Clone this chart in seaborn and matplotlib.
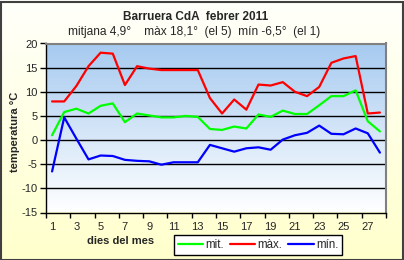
import numpy as np
import pandas as pd
import matplotlib
matplotlib.use("Agg")
import matplotlib.pyplot as plt
from matplotlib.patches import Rectangle
import seaborn as sns

days = list(range(1, 29))
mit = [1.0, 5.8, 6.5, 5.5, 7.1, 7.6, 3.7, 5.5, 5.1, 4.7, 4.7, 5.0, 4.8, 2.3,
       2.1, 2.8, 2.4, 5.3, 4.8, 6.1, 5.4, 5.4, 7.2, 9.1, 9.1, 10.3, 3.9, 1.8]
maxv = [8.0, 8.0, 11.2, 15.3, 18.1, 17.9, 11.4, 15.3, 14.8, 14.5, 14.5, 14.5, 14.5, 8.7,
        5.5, 8.4, 6.3, 11.5, 11.3, 12.0, 10.0, 9.1, 11.0, 16.0, 16.9, 17.4, 5.5, 5.7]
minv = [-6.5, 4.7, 0.3, -4.0, -3.2, -3.3, -4.1, -4.3, -4.4, -5.1, -4.6, -4.6, -4.6, -1.0,
        -1.7, -2.4, -1.7, -1.5, -2.0, 0.1, 1.0, 1.5, 3.0, 1.3, 1.2, 2.4, 1.4, -2.6]
series_names = ["mit.", "màx.", "mín."]
series_colors = ["#00FF00", "#FF0000", "#0000FF"]
yticks = list(range(-15, 25, 5))
xtick_labels = list(range(1, 28, 2))

title = "Barruera CdA  febrer 2011"
subtitle = "mitjana 4,9°    màx 18,1°  (el 5)  mín -6,5°  (el 1)"

sns.set_theme(style="white")
plt.rcParams["font.family"] = ["Liberation Sans", "DejaVu Sans"]

df = pd.DataFrame({"dia": days * 3,
                   "valor": mit + maxv + minv,
                   "serie": [series_names[0]] * 28 + [series_names[1]] * 28 + [series_names[2]] * 28})

W, H = 404, 260
fig = plt.figure(figsize=(W / 100, H / 100), dpi=100)

# figure background gradient
bg = fig.add_axes([0, 0, 1, 1], zorder=-10)
grad = np.linspace(0, 1, 256).reshape(-1, 1)
c_top = np.array([1.0, 1.0, 0.985])
c_bot = np.array([1.0, 1.0, 0.80])
img = c_bot[None, None, :] * (1 - grad[:, :, None]) + c_top[None, None, :] * grad[:, :, None]
bg.imshow(img, extent=[0, 1, 0, 1], origin="lower", aspect="auto")
bg.set_axis_off()
fig.patches.append(Rectangle((0.5 / W, 0.5 / H), 1 - 2 / W, 1 - 2 / H, transform=fig.transFigure,
                             fill=False, edgecolor="#404040", linewidth=1.5))

left, right = 46 / W, 386 / W
top, bottom = 1 - 43.5 / H, 1 - 212.5 / H
ax = fig.add_axes([left, bottom, right - left, top - bottom])
ax.set_facecolor("none")

# plot area gradient
pa_top = np.array([166, 202, 240]) / 255
pa_bot = np.array([1.0, 1.0, 1.0])
img2 = pa_bot[None, None, :] * (1 - grad[:, :, None]) + pa_top[None, None, :] * grad[:, :, None]
ax.imshow(img2, extent=[0, 1, 0, 1], origin="lower", aspect="auto",
          transform=ax.transAxes, zorder=0)

sns.lineplot(data=df, x="dia", y="valor", hue="serie", hue_order=series_names,
             palette=series_colors, linewidth=1.6, ax=ax, legend=False, zorder=3)

ax.set_xlim(0.5, 28.5)
ax.set_ylim(-15, 20)
ax.set_yticks(yticks)
ax.set_yticklabels([str(v) for v in yticks])
for v in yticks[1:-1]:
    ax.axhline(v, color="black", linewidth=1.0, zorder=2)
ax.set_xticks(xtick_labels)
ax.set_xticklabels([str(v) for v in xtick_labels])
ax.set_xticks(np.arange(0.5, 29, 2), minor=True)
ax.tick_params(axis="x", which="major", length=0, pad=7, labelsize=8)
ax.tick_params(axis="x", which="minor", length=3.5, width=1, color="black", direction="out", bottom=True)
ax.tick_params(axis="y", which="major", length=4, width=1, color="black", direction="out",
               left=True, pad=2, labelsize=8)
for s in ["left", "bottom"]:
    ax.spines[s].set_color("black")
    ax.spines[s].set_linewidth(1.0)
for s in ["top", "right"]:
    ax.spines[s].set_color("#808080")
    ax.spines[s].set_linewidth(1.5)
ax.set_xlabel("")
ax.set_ylabel("")

fig.text(196 / W, 1 - 17 / H, title, ha="center", va="center", fontsize=8.5, fontweight="bold")
fig.text(194 / W, 1 - 32 / H, subtitle, ha="center", va="center", fontsize=8.6)
fig.text(15 / W, 1 - 132 / H, "temperatura °C", ha="center", va="center", rotation=90,
         fontsize=8, fontweight="bold")
fig.text(121 / W, 1 - 241 / H, "dies del mes", ha="center", va="center", fontsize=8,
         fontweight="bold")

handles = [plt.Line2D([0], [0], color=c, linewidth=1.6) for c in series_colors]
leg = fig.legend(handles, series_names, loc="center", bbox_to_anchor=(258 / W, 1 - 245 / H),
                 ncol=3, fontsize=8.3, frameon=True, fancybox=False, handlelength=2.2,
                 handletextpad=0.2, columnspacing=0.5, borderpad=0.35, borderaxespad=0)
leg.get_frame().set_edgecolor("black")
leg.get_frame().set_linewidth(1.0)
leg.get_frame().set_facecolor("white")
leg.get_frame().set_alpha(1)

fig.savefig("out.png", dpi=100)
